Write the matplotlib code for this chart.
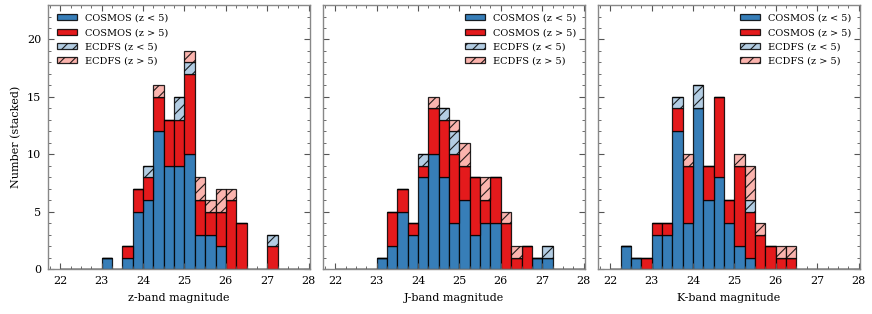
import matplotlib.pyplot as plt
from matplotlib.ticker import MultipleLocator
import numpy as np

plt.rcParams['font.family'] = 'DejaVu Serif'
plt.rcParams['hatch.linewidth'] = 0.8

# bin edges: 22 to 28 in 0.25 mag steps
edges = np.arange(22, 28.001, 0.25)

z_cosmos_lo = [0, 0, 0, 0, 1, 0, 1, 5, 6, 12, 9, 9, 10, 3, 3, 2, 0, 0, 0, 0, 0, 0, 0, 0]
z_cosmos_hi = [0, 0, 0, 0, 0, 0, 1, 2, 2, 3, 4, 4, 7, 3, 2, 3, 6, 4, 0, 0, 2, 0, 0, 0]
z_ecdfs_lo = [0, 0, 0, 0, 0, 0, 0, 0, 1, 0, 0, 2, 1, 0, 0, 0, 0, 0, 0, 0, 1, 0, 0, 0]
z_ecdfs_hi = [0, 0, 0, 0, 0, 0, 0, 0, 0, 1, 0, 0, 1, 2, 1, 2, 1, 0, 0, 0, 0, 0, 0, 0]

j_cosmos_lo = [0, 0, 0, 0, 1, 2, 5, 3, 8, 10, 8, 4, 6, 3, 4, 4, 0, 0, 0, 1, 1, 0, 0, 0]
j_cosmos_hi = [0, 0, 0, 0, 0, 3, 2, 1, 1, 4, 5, 6, 3, 5, 2, 4, 4, 1, 2, 0, 0, 0, 0, 0]
j_ecdfs_lo = [0, 0, 0, 0, 0, 0, 0, 0, 1, 0, 1, 2, 0, 0, 0, 0, 0, 0, 0, 0, 1, 0, 0, 0]
j_ecdfs_hi = [0, 0, 0, 0, 0, 0, 0, 0, 0, 1, 0, 1, 2, 0, 2, 0, 1, 1, 0, 0, 0, 0, 0, 0]

k_cosmos_lo = [0, 2, 1, 0, 3, 3, 12, 4, 14, 6, 8, 4, 2, 1, 0, 0, 0, 0, 0, 0, 0, 0, 0, 0]
k_cosmos_hi = [0, 0, 0, 1, 1, 1, 2, 5, 0, 3, 7, 2, 7, 4, 3, 2, 1, 1, 0, 0, 0, 0, 0, 0]
k_ecdfs_lo = [0, 0, 0, 0, 0, 0, 1, 0, 2, 0, 0, 0, 0, 1, 0, 0, 0, 0, 0, 0, 0, 0, 0, 0]
k_ecdfs_hi = [0, 0, 0, 0, 0, 0, 0, 1, 0, 0, 0, 0, 1, 3, 1, 0, 1, 1, 0, 0, 0, 0, 0, 0]

labels = ['COSMOS (z < 5)', 'COSMOS (z > 5)', 'ECDFS (z < 5)', 'ECDFS (z > 5)']
colors = ['#377eb8', '#e41a1c', '#b3cde3', '#fbb4ae']
hatches = [None, None, '///', '///']

panels = [
    ('z-band magnitude', [z_cosmos_lo, z_cosmos_hi, z_ecdfs_lo, z_ecdfs_hi], 'upper left'),
    ('J-band magnitude', [j_cosmos_lo, j_cosmos_hi, j_ecdfs_lo, j_ecdfs_hi], 'upper right'),
    ('K-band magnitude', [k_cosmos_lo, k_cosmos_hi, k_ecdfs_lo, k_ecdfs_hi], 'upper right'),
]

fig, axes = plt.subplots(1, 3, figsize=(8.72, 3.14), dpi=100, sharey=True)
fig.subplots_adjust(left=0.055, right=0.986, top=0.984, bottom=0.143, wspace=0.05)

for ax, (xlab, series, loc) in zip(axes, panels):
    bottom = np.zeros(len(edges) - 1)
    for vals, lab, col, h in zip(series, labels, colors, hatches):
        ax.bar(edges[:-1], vals, width=0.25, bottom=bottom, align='edge',
               color=col, edgecolor=(0, 0, 0, 0.85), linewidth=0.9,
               hatch=h, label=lab)
        bottom += np.array(vals)
    ax.set_xlim(21.7, 28.03)
    ax.set_ylim(0, 23)
    ax.set_xlabel(xlab, fontsize=8, labelpad=5)
    ax.xaxis.set_major_locator(MultipleLocator(1))
    ax.xaxis.set_minor_locator(MultipleLocator(0.25))
    ax.yaxis.set_major_locator(MultipleLocator(5))
    ax.yaxis.set_minor_locator(MultipleLocator(1))
    ax.tick_params(which='both', direction='in', top=True, right=True,
                   labelsize=8, color='#555555')
    ax.tick_params(which='major', length=4, pad=5)
    ax.tick_params(which='minor', length=2)
    for s in ax.spines.values():
        s.set_color('#888888')
        s.set_linewidth(1.0)
    ax.legend(loc=loc, frameon=False, fontsize=7, handlelength=2.1,
              handleheight=0.6, labelspacing=0.55, borderaxespad=0.5)

axes[0].set_ylabel('Number (stacked)', fontsize=8)

plt.savefig('out.png', dpi=100)
